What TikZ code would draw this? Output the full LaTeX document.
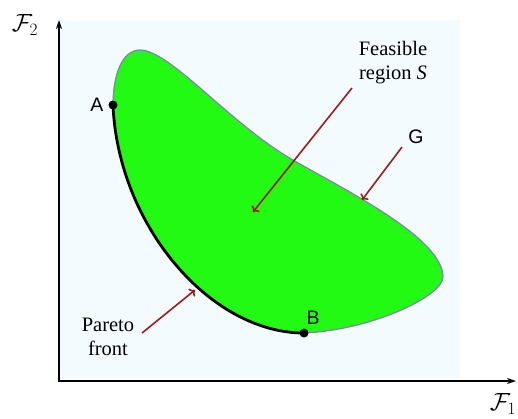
\documentclass[tikz,border=0pt]{standalone}
\usepackage{fontspec}
\setmainfont{Liberation Serif}
\newfontfamily\sansf{Liberation Sans}
\usetikzlibrary{arrows.meta}
\definecolor{bgc}{RGB}{244,251,255}
\definecolor{blobgreen}{RGB}{34,250,20}
\definecolor{outlinec}{RGB}{130,130,175}
\definecolor{arrred}{RGB}{165,25,25}
\begin{document}
\begin{tikzpicture}[x=1pt,y=-1pt,
  lab/.style={font=\fontsize{20.5}{24}\selectfont, align=center, inner sep=0pt},
  ptlab/.style={font=\sansf\fontsize{19.5}{20}\selectfont, inner sep=0pt},
  redarrow/.style={draw=arrred, line width=1.6pt, -{To[length=5pt,width=10pt]}},
  axisline/.style={line width=1.4pt, -{Stealth[length=9pt,width=6pt]}},
  dot/.style={circle, fill=black, inner sep=0pt, minimum size=9pt}]
\useasboundingbox (0,0) rectangle (518,418);
\fill[bgc] (60,20) rectangle (460,378);
% axes
\coordinate (O) at (59,381);
\coordinate (Ytip) at (59,20);
\coordinate (Xtip) at (516,381);
\draw[axisline] ([yshift=-0.7pt]O) -- (Ytip);
\draw[axisline] ([xshift=-0.7pt]O) -- (Xtip);
% region
\coordinate (A) at (113,105);
\coordinate (Top) at (140,50);
\coordinate (G1) at (293,160);
\coordinate (R) at (443,277);
\coordinate (B) at (304,333);
\filldraw[fill=blobgreen, draw=outlinec, line width=1.2pt]
  (A) .. controls (113,75) and (122,50) .. (Top)
      .. controls (170,50) and (230,124) .. (G1)
      .. controls (345,190) and (443,238) .. (R)
      .. controls (443,296) and (372,330) .. (B)
      .. controls (210,333) and (118,225) .. (A) -- cycle;
% Pareto front
\draw[line width=2.8pt] (B) .. controls (210,333) and (118,225) .. (A);
\node[dot] (dA) at (A) {};
\node[dot] (dB) at (B) {};
% labels
\node[ptlab] (labA) at (97,105) {A};
\node[ptlab] (labB) at (313,318) {B};
\node[ptlab] (labG) at (416,137) {G};
\node[lab] (feas) at (393,63) {Feasible\\region \textit{S}};
\node[lab] (par) at (108,337) {Pareto\\front};
\node[inner sep=0pt] (f2) at (25,25) {\fontsize{24}{24}\selectfont$\mathcal{F}_2$};
\node[inner sep=0pt] (f1) at (503,404) {\fontsize{24}{24}\selectfont$\mathcal{F}_1$};
% arrows
\coordinate (fs) at (352,88);
\coordinate (fe) at (253,212);
\coordinate (gs) at (402,147);
\coordinate (ge) at (362,200);
\coordinate (ps) at (142,333);
\coordinate (pe) at (195,290);
\draw[redarrow] (fs) -- (fe);
\draw[redarrow] (gs) -- (ge);
\draw[redarrow] (ps) -- (pe);
\end{tikzpicture}
\end{document}
